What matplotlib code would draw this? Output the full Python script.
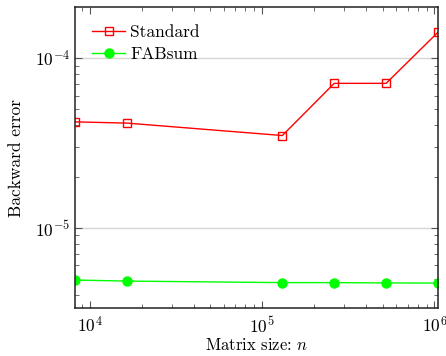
import numpy as np
from matplotlib import pyplot as plt
from matplotlib.ticker import LogLocator, NullFormatter

# matrix sizes n = 2^13 ... 2^20
n = [8192, 16384, 131072, 262144, 524288, 1048576]
err_standard = [4.2e-5, 4.13e-5, 3.49e-5, 7.08e-5, 7.08e-5, 1.415e-4]
err_fabsum = [4.92e-6, 4.85e-6, 4.75e-6, 4.75e-6, 4.73e-6, 4.72e-6]

plt.rcParams['font.family'] = 'serif'
plt.rcParams['font.serif'] = ['cmr10', 'DejaVu Serif']
plt.rcParams['mathtext.fontset'] = 'cm'
plt.rcParams['axes.unicode_minus'] = False
plt.rcParams['axes.formatter.use_mathtext'] = True

fig = plt.figure(figsize=(4.46, 3.56), dpi=100)
ax = fig.add_axes([0.168, 0.135, 0.814, 0.845])

ax.plot(n, err_standard, color='#ff0000', lw=1.0, marker='s', ms=6,
        mfc='none', mec='#ff0000', mew=1.0, label='Standard')
ax.plot(n, err_fabsum, color='#00ff00', lw=1.0, marker='o', ms=6.5,
        mfc='#00ff00', mec='#00ff00', label='FABsum')

ax.set_xscale('log')
ax.set_yscale('log')
ax.set_xlim(8192, 1048576)
ax.set_ylim(3.37e-6, 1.99e-4)

ax.yaxis.grid(True, which='major', color='#d6d6d6', lw=1.0)
ax.set_axisbelow(True)

ax.xaxis.set_major_locator(LogLocator(base=10))
ax.xaxis.set_minor_locator(LogLocator(base=10, subs=np.arange(2, 10)))
ax.xaxis.set_minor_formatter(NullFormatter())
ax.yaxis.set_minor_locator(LogLocator(base=10, subs=np.arange(2, 10)))
ax.yaxis.set_minor_formatter(NullFormatter())

ax.tick_params(which='both', direction='in', top=True, right=True,
               color='#555555', labelsize=12.5)
ax.tick_params(axis='x', which='major', pad=5)
ax.tick_params(which='major', length=5, width=0.8)
ax.tick_params(which='minor', length=3, width=0.6)
for s in ax.spines.values():
    s.set_linewidth(1.1)
    s.set_color('#222222')

ax.set_xlabel('Matrix size: $n$', fontsize=12, labelpad=1)
ax.set_ylabel('Backward error', fontsize=12.5, labelpad=8)

ax.legend(loc='upper left', frameon=False, fontsize=12.5, handlelength=1.9,
          handletextpad=0.3, borderaxespad=0.5, borderpad=0.5,
          labelspacing=0.4)

plt.savefig('out.png', dpi=100)
